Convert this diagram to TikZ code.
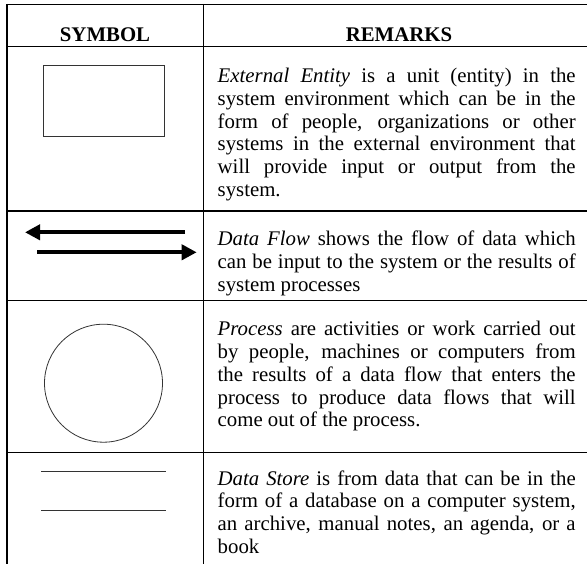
\documentclass[tikz,border=0pt]{standalone}
\usepackage{fontspec}
\setmainfont{Liberation Serif}
\usetikzlibrary{arrows.meta}

% one justified line of a remark, spread over the full column width
\newcommand{\jline}[1]{\makebox[358pt][s]{#1}}

\begin{document}
\begin{tikzpicture}[x=1pt,y=-1pt,
  rule/.style={line width=1.6pt},
  glyph/.style={line width=0.8pt, draw=black!80},
  flow/.style={line width=4pt, -{Triangle[length=15pt,width=15pt]}},
  head/.style={font=\fontsize{20.8}{22.75}\selectfont\bfseries, inner sep=0pt, anchor=base},
  para/.style={font=\fontsize{20.8}{22.75}\selectfont, inner sep=0pt, anchor=base west}]

\useasboundingbox (0,0) rectangle (587,564);

% table rules
\draw[rule] (6.7,4.7) -- (587,4.7);
\draw[rule] (6.7,4) -- (6.7,564);
\draw[rule] (203.3,4) -- (203.3,564);
\foreach \yy in {46.7,211,300.7,452.3}
  \draw[rule] (6.7,\yy) -- (587,\yy);

% header
\node[head] (hsym) at (105,41.7) {SYMBOL};
\node[head] (hrem) at (399,41.7) {REMARKS};

% symbols
\draw[glyph] (43.3,65.7) rectangle (164.7,136.7);

\coordinate (inS)  at (185,232.3);
\coordinate (inE)  at (25,232.3);
\coordinate (outS) at (37.3,252.3);
\coordinate (outE) at (196.7,252.3);
\draw[flow] (inS) -- (inE);
\draw[flow] (outS) -- (outE);

\draw[glyph] (103.5,383.2) circle[radius=59pt];

\draw[glyph] (41,471) -- (166,471);
\draw[glyph] (41,510) -- (166,510);

% remarks
\node[para] (ee) at (217.5,82.7) {\parbox[t]{358pt}{%
\jline{\textit{External Entity} is a unit (entity) in the}\\
\jline{system environment which can be in the}\\
\jline{form of people, organizations or other}\\
\jline{systems in the external environment that}\\
\jline{will provide input or output from the}\\
system.}};

\node[para] (df) at (217.5,245.7) {\parbox[t]{358pt}{%
\jline{\textit{Data Flow} shows the flow of data which}\\
\jline{can be input to the system or the results of}\\
system processes}};

\node[para] (pr) at (217.5,336) {\parbox[t]{358pt}{%
\jline{\textit{Process} are activities or work carried out}\\
\jline{by people, machines or computers from}\\
\jline{the results of a data flow that enters the}\\
\jline{process to produce data flows that will}\\
come out of the process.}};

\node[para] (ds) at (217.5,485) {\parbox[t]{358pt}{%
\jline{\textit{Data Store} is from data that can be in the}\\
\jline{form of a database on a computer system,}\\
\jline{an archive, manual notes, an agenda, or a}\\
book}};

\end{tikzpicture}
\end{document}
